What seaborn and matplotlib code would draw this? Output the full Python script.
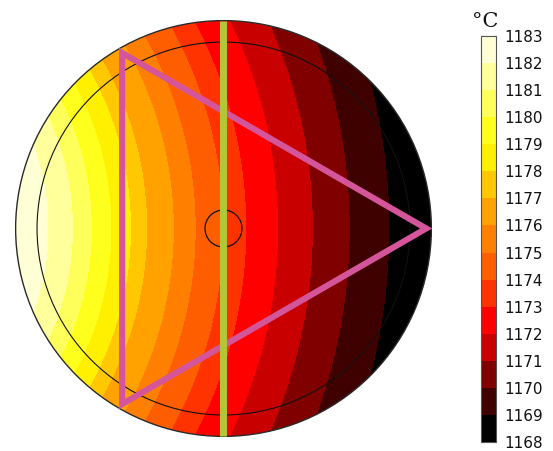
import numpy as np
import matplotlib
matplotlib.use("Agg")
import matplotlib.pyplot as plt
from matplotlib.patches import Circle, Polygon
from matplotlib.colors import BoundaryNorm, ListedColormap
from matplotlib.cm import ScalarMappable
import seaborn as sns

sns.set_theme(style="white")

# Temperature bands (°C) and their fill colours, coldest first
levels = list(range(1168, 1184))
band_colors = ["#000000", "#3f0000", "#800000", "#c80000", "#ff0000",
               "#ff3300", "#ff5e00", "#ff8000", "#ffa200", "#ffc800",
               "#fff000", "#ffff1e", "#ffff5c", "#ffff9c", "#ffffd6"]

# Isotherm crossings along the row y = -0.233 of the unit disc (x in disc radii)
profile_y = -0.233
crossing_x = [-0.973, -0.868, -0.748, -0.656, -0.560, -0.465, -0.387, -0.257,
              -0.151, -0.017, 0.094, 0.248, 0.416, 0.594, 0.786, 0.973]
crossing_T = [1182.98, 1182, 1181, 1180, 1179, 1178, 1177, 1176,
              1175, 1174, 1173, 1172, 1171, 1170, 1169, 1168.03]

# Isotherms are arcs about a point left of the disc
source_xy = (-2.0, 0.0)

# Geometry overlays (disc radii)
inner_ring_r = 0.897
center_ring_r = 0.089
triangle_r = 0.975

cmap = ListedColormap(sns.color_palette(band_colors))
norm = BoundaryNorm(levels, cmap.N)

# Temperature field on a grid over the disc
g = np.linspace(-1.02, 1.02, 500)
X, Y = np.meshgrid(g, g)
d = np.hypot(X - source_xy[0], Y - source_xy[1])
d_prof = np.hypot(np.array(crossing_x) - source_xy[0], profile_y - source_xy[1])
T = np.interp(d, d_prof, crossing_T)

W, H = 553, 451
fig = plt.figure(figsize=(W / 100, H / 100), dpi=100)
ax = fig.add_axes([15 / W, (H - 437) / H, 417 / W, 417 / H])
ax.set_xlim(-1.003, 1.003)
ax.set_ylim(-1.003, 1.003)
ax.set_aspect("equal")
ax.axis("off")

disc = Circle((0, 0), 1.0, transform=ax.transData, facecolor="none")
cs = ax.contourf(X, Y, T, levels=levels, cmap=cmap, norm=norm)
cs.set_clip_path(disc)

ax.add_patch(Circle((0, 0), 1.0, fill=False, ec="#2a2a2a", lw=1.0, zorder=3))
ax.add_patch(Circle((0, 0), inner_ring_r, fill=False, ec="#111111", lw=0.8, zorder=3))
ax.add_patch(Circle((0, 0), center_ring_r, fill=False, ec="#111111", lw=0.9, zorder=3))

ang = np.deg2rad([0, 120, 240])
tri = np.column_stack([triangle_r * np.cos(ang), triangle_r * np.sin(ang)])
ax.add_patch(Polygon(tri, closed=True, fill=False, ec="#d4559a", lw=4.4,
                     joinstyle="miter", zorder=4))

ax.plot([0, 0], [-1.0, 1.0], color="#b2c737", lw=5.0, solid_capstyle="butt", zorder=5)

# Colour legend
cax = fig.add_axes([481 / W, (H - 442) / H, 15 / W, 406 / H])
cb = fig.colorbar(ScalarMappable(norm=norm, cmap=cmap), cax=cax, ticks=levels)
cb.outline.set_edgecolor("#555555")
cb.outline.set_linewidth(0.8)
cax.yaxis.set_ticks_position("both")
cax.tick_params(direction="in", length=2.5, width=0.8, color="#222222",
                left=True, right=True, labelleft=False, labelright=True,
                labelsize=11, pad=6, labelcolor="#111111")
for t in cax.get_yticklabels():
    t.set_family("DejaVu Sans")

fig.text(485 / W, 1 - 27 / H, "°C", family="DejaVu Serif", fontsize=15,
         ha="center", va="baseline", color="#111111")

fig.savefig("out.png", dpi=100, facecolor="white")
